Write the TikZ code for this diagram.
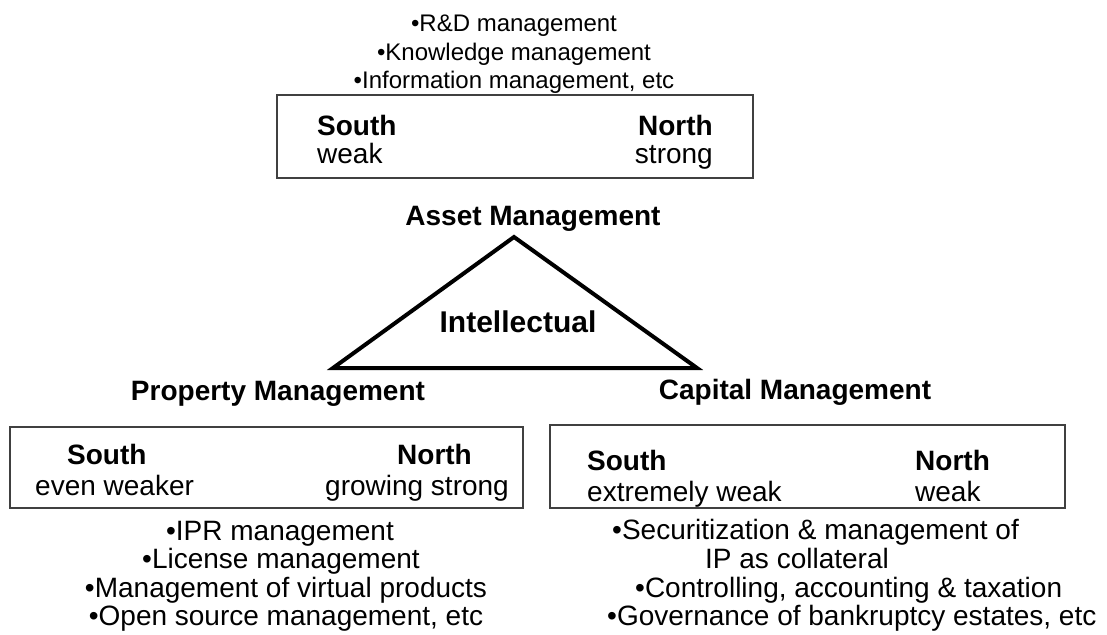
\documentclass[tikz,border=0pt]{standalone}
\usepackage{fontspec}
\setmainfont{Liberation Sans}
\begin{document}
\begin{tikzpicture}[x=1pt,y=-1pt,
  lst/.style={inner sep=0pt, anchor=base, font=\fontsize{24}{28}\selectfont},
  big/.style={inner sep=0pt, font=\fontsize{28}{30}\selectfont},
  hd/.style={inner sep=0pt, anchor=base, font=\fontsize{28}{30}\selectfont\bfseries},
  boxst/.style={draw=black!75, line width=1.6pt, inner sep=0pt},
  tri/.style={draw=black, line width=4pt, line join=miter}]
\useasboundingbox (0,0) rectangle (1107,634);

% top list
\node[lst] (t1) at (514,32) {•R\&D management};
\node[lst] (t2) at (514,60) {•Knowledge management};
\node[lst] (t3) at (514,88) {•Information management, etc};

% top box
\node[boxst, minimum width=476pt, minimum height=83pt] (topbox) at (515,136.5) {};
\node[big, anchor=base west, font=\fontsize{28}{30}\selectfont\bfseries] (ts) at (317,135) {South};
\node[big, anchor=base west] (tw) at (317,163) {weak};
\node[big, anchor=base east, font=\fontsize{28}{30}\selectfont\bfseries] (tn) at (713,135) {North};
\node[big, anchor=base east] (tst) at (713,163) {strong};

\node[hd] (asset) at (533,225) {Asset Management};

% triangle
\coordinate (apex) at (514,237);
\coordinate (bl) at (333,368);
\coordinate (br) at (697,368);
\draw[tri] (apex) -- (bl) -- (br) -- cycle;
\node[hd, font=\fontsize{30}{32}\selectfont\bfseries] (intel) at (518,332) {Intellectual};

\node[hd] (prop) at (278,400) {Property Management};
\node[hd] (cap) at (795,399) {Capital Management};

% left box
\node[boxst, minimum width=513pt, minimum height=81pt] (lbox) at (266.5,467.5) {};
\node[big, anchor=base west, font=\fontsize{28}{30}\selectfont\bfseries] (ls) at (67,464) {South};
\node[big, anchor=base west] (lw) at (35,495) {even weaker};
\node[big, anchor=base west, font=\fontsize{28}{30}\selectfont\bfseries] (ln) at (397,464) {North};
\node[big, anchor=base west] (lg) at (325,495) {growing strong};

% right box
\node[boxst, minimum width=515pt, minimum height=83pt] (rbox) at (807.5,466.5) {};
\node[big, anchor=base west, font=\fontsize{28}{30}\selectfont\bfseries] (rs) at (587,470) {South};
\node[big, anchor=base west] (rw) at (587,501) {extremely weak};
\node[big, anchor=base west, font=\fontsize{28}{30}\selectfont\bfseries] (rn) at (915,470) {North};
\node[big, anchor=base west] (rwk) at (915,501) {weak};

% left list
\node[big, anchor=base] (l1) at (280,540) {•IPR management};
\node[big, anchor=base] (l2) at (281,568) {•License management};
\node[big, anchor=base] (l3) at (286,597) {•Management of virtual products};
\node[big, anchor=base] (l4) at (286,625) {•Open source management, etc};

% right list
\node[big, anchor=base west] (r1) at (612,539) {•Securitization \& management of};
\node[big, anchor=base west] (r2) at (705,568) {IP as collateral};
\node[big, anchor=base west] (r3) at (635,597) {•Controlling, accounting \& taxation};
\node[big, anchor=base west] (r4) at (607,625) {•Governance of bankruptcy estates, etc};
\end{tikzpicture}
\end{document}
